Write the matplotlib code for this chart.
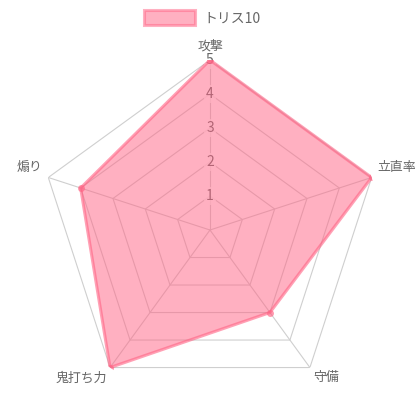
import numpy as np
import matplotlib
matplotlib.use("Agg")
import matplotlib.pyplot as plt
from matplotlib.patches import Patch

plt.rcParams["font.family"] = ["Noto Sans CJK JP", "DejaVu Sans"]

labels = ["攻撃", "立直率", "守備", "鬼打ち力", "煽り"]
values = [5, 5, 3, 5, 4]
ticks = [1, 2, 3, 4, 5]
series_name = "トリス10"

pink = "#ff6384"
grey_text = "#666666"
grid_col = "#cfcfcf"

n = len(labels)
angles = np.arange(n) * 2 * np.pi / n

fig = plt.figure(figsize=(4.2, 4.2), dpi=100)
ax = fig.add_axes([0.0952, 0.0476, 0.8095, 0.8095], projection="polar")
ax.set_theta_offset(np.pi / 2)
ax.set_theta_direction(-1)
ax.set_ylim(0, 5)
ax.grid(False)
ax.set_xticks([])
ax.set_yticks([])
ax.spines["polar"].set_visible(False)
ax.patch.set_visible(False)

closed = np.append(angles, angles[0])

# pentagon grid rings and spokes
for t in ticks:
    ax.plot(closed, [t] * (n + 1), color=grid_col, lw=0.8, zorder=1)
for a in angles:
    ax.plot([a, a], [0, ticks[-1]], color=grid_col, lw=0.8, zorder=1)

# tick labels on the top spoke
for t in ticks:
    ax.text(0, t, str(t), ha="center", va="center", fontsize=10, color=grey_text,
            zorder=2, bbox=dict(boxstyle="square,pad=0.15", fc="white", ec="none", alpha=0.75))

# data
vals = values + values[:1]
ax.fill(closed, vals, color=pink, alpha=0.5, lw=0, zorder=3)
ax.plot(closed, vals, color=pink, alpha=0.6, lw=2.2, zorder=4)
ax.plot(angles, values, "o", color=pink, alpha=0.65, ms=5, mec="none", zorder=5)

# axis labels
offsets = [(0, 14, "center"), (6, 10, "left"), (3, -10, "left"),
           (-3, -11, "right"), (-6, 10, "right")]
for a, lab, (dx, dy, ha) in zip(angles, labels, offsets):
    ax.annotate(lab, xy=(a, ticks[-1]), xytext=(dx * 0.72, dy * 0.72),
                textcoords="offset points", ha=ha, va="center",
                fontsize=9.3, color=grey_text, annotation_clip=False)

handle = Patch(facecolor=pink, alpha=0.5, edgecolor=pink, lw=2.2)
fig.legend([handle], [series_name], loc="upper center", bbox_to_anchor=(0.482, 1.0),
           frameon=False, fontsize=10, handlelength=3.7, handleheight=1.2,
           handletextpad=0.6, labelcolor=grey_text, borderaxespad=0.35)

fig.savefig("out.png", dpi=100)
